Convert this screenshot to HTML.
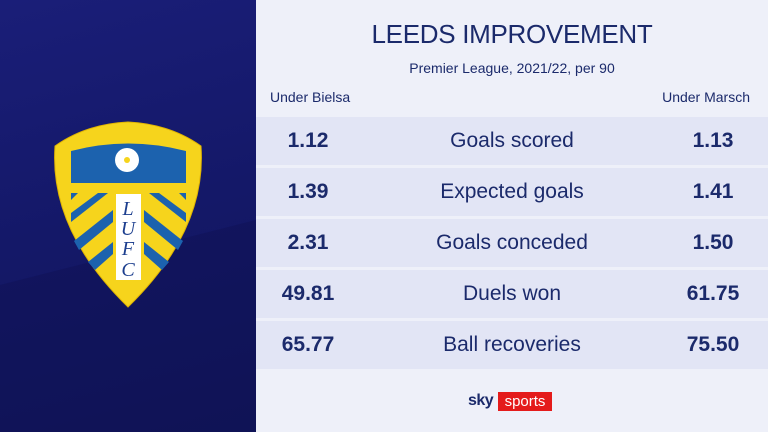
<!DOCTYPE html>
<html><head><meta charset="utf-8"><style>
body{margin:0;width:768px;height:432px;overflow:hidden;font-family:"Liberation Sans",sans-serif;}
#l{position:absolute;left:0;top:0;width:256px;height:432px;background:linear-gradient(165deg,#1a1e78 0%,#141868 50%,#10145a 100%);}
#r{position:absolute;left:256px;top:0;width:512px;height:432px;background:#eef0f9;color:#1b2a6b;}
.t{position:absolute;width:512px;text-align:center;}
.row{position:absolute;left:0;width:512px;height:48px;background:#e2e5f5;}
.row span{position:absolute;top:0;line-height:48px;font-size:21px;}
.a{left:0;width:104px;text-align:center;font-weight:bold}
.b{left:0;width:512px;text-align:center}
.c{right:0;width:110px;text-align:center;font-weight:bold}
</style></head><body>
<div id="l">
<svg width="256" height="432" viewBox="0 0 256 432">
<polygon points="0,285 256,220 256,432 0,432" fill="#0e1250" opacity="0.4"/>
<path d="M128,122 Q170,124 201,146 Q207,230 128,307 Q49,230 55,146 Q86,124 128,122Z" fill="#f6d41c" stroke="#e0b400" stroke-width="1"/>
<path d="M71,151 Q128,136 186,151 L186,183 L71,183Z" fill="#1c62ae"/>
<circle cx="127" cy="160" r="12" fill="#fff"/>
<circle cx="127" cy="160" r="3" fill="#f6d41c"/>
<g fill="#1c62ae">
<polygon points="71,193 78,193 71,200"/>
<polygon points="71,213 98,193 108,193 71,222"/>
<polygon points="74,241 113,210 113,222 79,250"/>
<polygon points="88,262 113,242 113,254 95,270"/>
<polygon points="186,193 179,193 186,200"/>
<polygon points="186,213 159,193 149,193 186,222"/>
<polygon points="183,241 144,210 144,222 178,250"/>
<polygon points="169,262 144,242 144,254 162,270"/>
</g>
<rect x="116" y="194" width="25" height="86" fill="#fff"/>
<g font-family="Liberation Serif,serif" font-style="italic" font-size="20" fill="#1c3e8e" text-anchor="middle">
<text x="128" y="215">L</text><text x="128" y="235">U</text><text x="128" y="255">F</text><text x="128" y="276">C</text></g>
</svg></div>
<div id="r">
<div class="t" style="top:19px;font-size:26px;letter-spacing:-0.3px">LEEDS IMPROVEMENT</div>
<div class="t" style="top:60px;font-size:14px;">Premier League, 2021/22, per 90</div>
<div style="position:absolute;left:14px;top:89px;font-size:14px;">Under Bielsa</div>
<div style="position:absolute;right:18px;top:89px;font-size:14px;">Under Marsch</div>
<div class="row" style="top:117px"><span class="a">1.12</span><span class="b">Goals scored</span><span class="c">1.13</span></div>
<div class="row" style="top:168px"><span class="a">1.39</span><span class="b">Expected goals</span><span class="c">1.41</span></div>
<div class="row" style="top:219px"><span class="a">2.31</span><span class="b">Goals conceded</span><span class="c">1.50</span></div>
<div class="row" style="top:270px"><span class="a">49.81</span><span class="b">Duels won</span><span class="c">61.75</span></div>
<div class="row" style="top:321px"><span class="a">65.77</span><span class="b">Ball recoveries</span><span class="c">75.50</span></div>
<div style="position:absolute;left:212px;top:392px;font-size:16px;font-weight:bold;color:#1b2a6b;letter-spacing:-0.5px">sky</div>
<div style="position:absolute;left:242px;top:392px;width:54px;height:19px;background:#e41b1b;color:#fff;font-size:15px;line-height:19px;text-align:center;">sports</div>
</div>
</body></html>
